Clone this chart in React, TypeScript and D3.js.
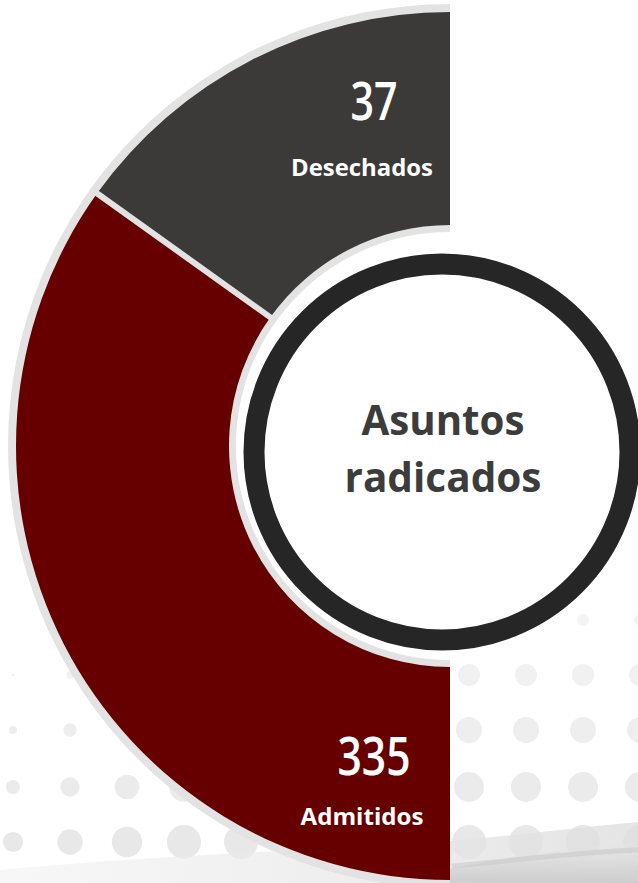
import React from "react";
import * as d3 from "d3";

// ---- data ----
const categories = ["Admitidos", "Desechados"];
const values = [335, 37];
// angular sweep of each segment as drawn (degrees)
const arcShares = [125.6, 54.4];
const segmentColors = ["#660000", "#3b3a39"];
const centerTitle = ["Asuntos", "radicados"];

const W = 638;
const H = 883;

export default function App() {
  const cx = 450;
  const cy = 446;
  const rOuter = 434;
  const rInner = 221;

  const data = categories.map((c, i) => ({ name: c, value: values[i], share: arcShares[i], color: segmentColors[i] }));

  const pie = d3
    .pie<any>()
    .startAngle(-Math.PI)
    .endAngle(0)
    .sort(null)
    .value((d: any) => d.share);
  const arcs = pie(data);

  const arcGen = d3.arc<any>().innerRadius(rInner).outerRadius(rOuter);
  const borderArc = d3
    .arc<any>()
    .innerRadius(rInner - 7)
    .outerRadius(rOuter + 8)
    .startAngle(-Math.PI)
    .endAngle(0);

  // halftone background dots (decoration)
  const cols = d3.range(0, 12).map((i) => 13 + 57 * i);
  const rows = [
    { y: 620, max: 6, start: -2, c: "#f4f4f4" },
    { y: 675, max: 11, start: 0.5, c: "#f1f1f1" },
    { y: 730, max: 13, start: 3.5, c: "#eeeeee" },
    { y: 787, max: 15, start: 6.5, c: "#ebebeb" },
    { y: 842, max: 17, start: 9.5, c: "#e8e8e8" },
  ];
  const dots: { x: number; y: number; r: number; c: string }[] = [];
  rows.forEach((row) => {
    cols.forEach((x) => {
      const r = Math.min(row.max, row.start + 0.045 * x);
      if (r > 1) dots.push({ x, y: row.y, r, c: row.c });
    });
  });

  const boundary = arcs[0].endAngle;
  const sep = [rInner - 7, rOuter + 8].map((r) => [cx + r * Math.sin(boundary), cy - r * Math.cos(boundary)]);

  // label placement
  const labelPos = [
    { numY: cy + 329, nameY: cy + 379, numW: 73, nameW: 123 },
    { numY: cy - 326, nameY: cy - 270, numW: 47, nameW: 142 },
  ];

  const ringCx = 442;
  const ringCy = 452;

  return (
    <svg
      width={W}
      height={H}
      viewBox={`0 0 ${W} ${H}`}
      style={{ position: "absolute", left: 0, top: 0, background: "#ffffff" }}
    >
      <defs>
        <linearGradient id="wave" x1="0" y1="0" x2="0" y2="1">
          <stop offset="0" stopColor="#e8e8e8" stopOpacity="0.2" />
          <stop offset="0.5" stopColor="#d6d6d6" stopOpacity="0.7" />
          <stop offset="1" stopColor="#c8c8c8" stopOpacity="0.85" />
        </linearGradient>
        <linearGradient id="wave2" x1="0" y1="0" x2="1" y2="0">
          <stop offset="0" stopColor="#f2f2f2" stopOpacity="0.6" />
          <stop offset="1" stopColor="#dedede" stopOpacity="0.8" />
        </linearGradient>
      </defs>

      {/* background halftone */}
      {dots.map((d, i) => (
        <circle key={i} cx={d.x} cy={d.y} r={d.r} fill={d.c} />
      ))}
      {/* bottom wave texture */}
      <path d={`M0,883 L0,870 C120,858 260,852 400,845 C500,838 570,828 638,822 L638,883 Z`} fill="url(#wave2)" />
      <path d={`M380,883 C450,868 540,850 638,842 L638,883 Z`} fill="url(#wave)" />
      <path
        d={`M452,866 C520,860 580,852 638,850`}
        fill="none"
        stroke="#c9c9c9"
        strokeOpacity="0.6"
        strokeWidth="5"
      />

      {/* half donut */}
      <g transform={`translate(${cx},${cy})`}>
        <path d={borderArc({}) as string} fill="#e3e3e3" />
        {arcs.map((a, i) => (
          <path key={i} d={arcGen(a) as string} fill={a.data.color} />
        ))}
      </g>
      <line x1={sep[0][0]} y1={sep[0][1]} x2={sep[1][0]} y2={sep[1][1]} stroke="#e3e3e3" strokeWidth={6} />

      {/* center ring */}
      <circle cx={ringCx} cy={ringCy} r={188} fill="#ffffff" stroke="#262626" strokeWidth={21} />
      {centerTitle.map((t, i) => (
        <text
          key={t}
          x={ringCx + 1}
          y={435 + i * 57}
          textAnchor="middle"
          fontFamily="'Open Sans', sans-serif"
          fontWeight={700}
          fontSize={42}
          fill="#3c3c3c"
          textLength={i === 0 ? 163 : 197}
          lengthAdjust="spacingAndGlyphs"
        >
          {t}
        </text>
      ))}

      {/* segment labels */}
      {arcs.map((a, i) => (
        <g key={i} fill="#ffffff">
          <text
            x={cx - 76}
            y={labelPos[i].numY}
            textAnchor="middle"
            fontFamily="'Open Sans', sans-serif"
            fontWeight={600}
            fontSize={52}
            textLength={labelPos[i].numW}
            lengthAdjust="spacingAndGlyphs"
          >
            {a.data.value}
          </text>
          <text
            x={cx - 88}
            y={labelPos[i].nameY}
            textAnchor="middle"
            fontFamily="'Open Sans', sans-serif"
            fontWeight={700}
            fontSize={23}
            textLength={labelPos[i].nameW}
            lengthAdjust="spacingAndGlyphs"
          >
            {a.data.name}
          </text>
        </g>
      ))}
    </svg>
  );
}
